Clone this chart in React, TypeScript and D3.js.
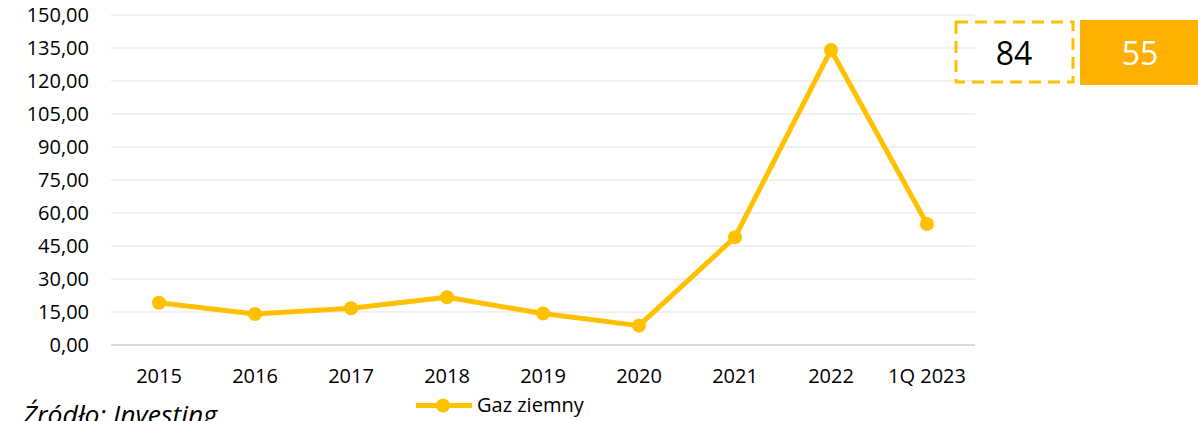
import React from 'react';
import * as d3 from 'd3';

const categories = ['2015', '2016', '2017', '2018', '2019', '2020', '2021', '2022', '1Q 2023'];
const gasPrices = [19.2, 14.1, 16.7, 21.7, 14.3, 8.8, 49.0, 134.1, 55.0];
const yTicks = [0, 15, 30, 45, 60, 75, 90, 105, 120, 135, 150];
const seriesName = 'Gaz ziemny';
const boxValues = ['84', '55'];
const sourceNote = 'Źródło: Investing';

const W = 1198;
const H = 421;
const FONT = '"Open Sans", "Liberation Sans", sans-serif';
const LINE = '#FFC000';
const FILL_BOX = '#FFB000';

const fmt = (v: number) => d3.format('.2f')(v).replace('.', ',');

const App: React.FC = () => {
  const x = d3.scalePoint<string>().domain(categories).range([111, 975]).padding(0.5);
  const y = d3.scaleLinear().domain([0, 150]).range([345, 15]);

  const line = d3
    .line<number>()
    .x((_d: number, i: number) => x(categories[i]) as number)
    .y((d: number) => y(d));

  return (
    <svg
      width={W}
      height={H}
      style={{ position: 'absolute', left: 0, top: 0, display: 'block', background: '#fff' }}
      fontFamily={FONT}
    >
      {/* grid */}
      {yTicks.map((t) => (
        <g key={t}>
          <line
            x1={111}
            x2={975}
            y1={y(t)}
            y2={y(t)}
            stroke={t === 0 ? '#d9d9d9' : '#f0f0f0'}
            strokeWidth={2}
          />
          <text x={89} y={y(t)} dy="0.35em" textAnchor="end" fontSize={20} fill="#000">
            {fmt(t)}
          </text>
        </g>
      ))}

      {/* x labels */}
      {categories.map((c) => (
        <text key={c} x={x(c)} y={383} textAnchor="middle" fontSize={20} fill="#000">
          {c}
        </text>
      ))}

      {/* series */}
      <path d={line(gasPrices) || ''} fill="none" stroke={LINE} strokeWidth={5} strokeLinejoin="round" />
      {gasPrices.map((v, i) => (
        <circle key={i} cx={x(categories[i])} cy={y(v)} r={7} fill={LINE} />
      ))}

      {/* value boxes */}
      <rect x={956} y={22} width={117} height={60} fill="none" stroke={LINE} strokeWidth={3} strokeDasharray="12,7" />
      <text x={1014} y={65} textAnchor="middle" fontSize={32} fill="#000">
        {boxValues[0]}
      </text>
      <rect x={1080} y={20} width={118} height={65} fill={FILL_BOX} />
      <text x={1140} y={65} textAnchor="middle" fontSize={32} fill="#fff">
        {boxValues[1]}
      </text>

      {/* legend */}
      <line x1={416} x2={472} y1={405.5} y2={405.5} stroke={LINE} strokeWidth={5} />
      <circle cx={443} cy={405.5} r={7} fill={LINE} />
      <text x={477} y={412} fontSize={20} fill="#000">
        {seriesName}
      </text>

      {/* source */}
      <text
        x={23}
        y={424}
        fontSize={25}
        fontStyle="italic"
        fill="#000"
        textLength={194}
        lengthAdjust="spacingAndGlyphs"
      >
        {sourceNote}
      </text>
    </svg>
  );
};

export default App;
